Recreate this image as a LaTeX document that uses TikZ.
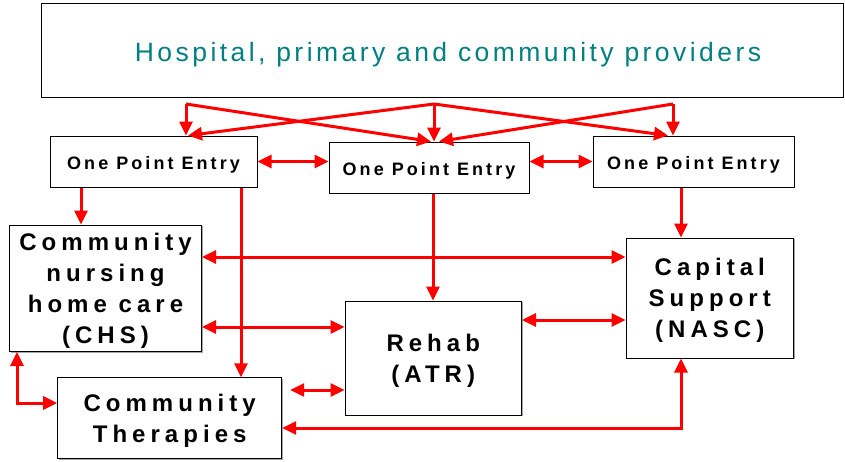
\documentclass[tikz,border=0pt]{standalone}
\usepackage{fontspec}
\usetikzlibrary{arrows.meta,shadows,calc}
\newfontfamily\topfont[LetterSpace=13]{Liberation Sans}
\newfontfamily\opefont[LetterSpace=17]{Liberation Sans}
\newfontfamily\lblfont[LetterSpace=21]{Liberation Sans}
\definecolor{provteal}{RGB}{0,128,128}
\definecolor{linkred}{RGB}{255,0,0}
\tikzset{
  boxnode/.style={draw=black, line width=1pt, fill=white, inner sep=0pt,
    align=center, rectangle,
    drop shadow={shadow xshift=1.2pt, shadow yshift=-1.2pt, fill=gray!70, opacity=1}},
  opebox/.style={boxnode, font=\opefont\bfseries\fontsize{18}{20}\selectfont,
    text height=15.6pt, text depth=0pt},
  lblbox/.style={boxnode, font=\lblfont\bfseries\fontsize{24}{31}\selectfont,
    text depth=-2pt},
  redarrow/.style={draw=linkred, line width=3pt, -{Triangle[length=14pt,width=13pt]}},
  redboth/.style={draw=linkred, line width=3pt,
    {Triangle[length=14pt,width=13pt]}-{Triangle[length=14pt,width=13pt]}},
}
\begin{document}
\begin{tikzpicture}[x=1pt,y=-1pt]
\useasboundingbox (0,0) rectangle (845,461);

% boxes
\node[boxnode, minimum width=802pt, minimum height=94pt,
      font=\topfont\fontsize{26.5}{30}\selectfont, text=provteal,
      text height=22pt, text depth=0pt]
      (prov) at (442,50) {\hspace*{12pt}Hospital, primary and community providers};
\node[opebox, minimum width=207pt, minimum height=51pt] (ope1) at (153.5,161.5) {One Point Entry};
\node[opebox, minimum width=200pt, minimum height=51pt] (ope2) at (429,167.5) {One Point Entry};
\node[opebox, minimum width=201pt, minimum height=51pt] (ope3) at (693.5,161.5) {One Point Entry};
\node[lblbox, minimum width=192pt, minimum height=126.5pt, text depth=-5pt] (chs) at (105.5,288.25)
      {Community\\nursing\\home care\\(CHS)};
\node[lblbox, minimum width=224pt, minimum height=81pt] (ct) at (169.7,418.3)
      {Community\\Therapies};
\node[lblbox, minimum width=176.5pt, minimum height=114pt] (rehab) at (433.25,358)
      {Rehab\\(ATR)};
\node[lblbox, minimum width=167.5pt, minimum height=120pt] (cap) at (709.75,298)
      {Capital\\Support\\(NASC)};

% feeds from the providers into the entry points
\coordinate (tl) at (186,104);
\coordinate (tm) at (434,104);
\coordinate (tr) at (673,104);
\draw[redarrow] (tl) -- ([xshift=32.5pt]ope1.north);
\draw[redarrow] (tl) -- ([xshift=2pt]ope2.north);
\draw[redarrow] (tm) -- ([xshift=34.5pt]ope1.north);
\draw[redarrow] (tm) -- ([xshift=5pt]ope2.north);
\draw[redarrow] (tm) -- ([xshift=-25.5pt]ope3.north);
\draw[redarrow] (tr) -- ([xshift=10pt]ope2.north);
\draw[redarrow] (tr) -- ([xshift=-20.5pt]ope3.north);

% links between entry points
\draw[redboth] (ope1.east) -- (ope2.west |- ope1.east);
\draw[redboth] (ope2.east |- ope3.west) -- (ope3.west);

% entry points down to services
\coordinate (o1a) at ([xshift=-72.5pt]ope1.south);
\coordinate (o1b) at ([xshift=87.5pt]ope1.south);
\coordinate (o2a) at ([xshift=4pt]ope2.south);
\coordinate (o3a) at ([xshift=-12.5pt]ope3.south);
\draw[redarrow] (o1a) -- (o1a |- chs.north);
\draw[redarrow] (o1b) -- (o1b |- ct.north);
\draw[redarrow] (o2a) -- (o2a |- rehab.north);
\draw[redarrow] (o3a) -- (o3a |- cap.north);

% links between services
\coordinate (chsup) at ([yshift=31.25pt]chs.east);
\coordinate (chslo) at ([yshift=-38.75pt]chs.east);
\coordinate (rw) at ([yshift=-32pt]rehab.west);
\coordinate (ctgap) at ([xshift=8pt]ct.east);
\coordinate (re) at ([yshift=38pt]rehab.east);
\draw[redboth] (chsup) -- (cap.west |- chsup);
\draw[redboth] (chslo) -- (rehab.west |- chslo);
\draw[redboth] (ctgap |- rw) -- (rw);
\draw[redboth] (re) -- (cap.west |- re);
\draw[redboth] ([xshift=-28.75pt]cap.south) |- ([yshift=-9.7pt]ct.east);
\draw[redboth] ([xshift=-88.5pt]chs.south) |- ([yshift=15.3pt]ct.west);
\end{tikzpicture}
\end{document}
